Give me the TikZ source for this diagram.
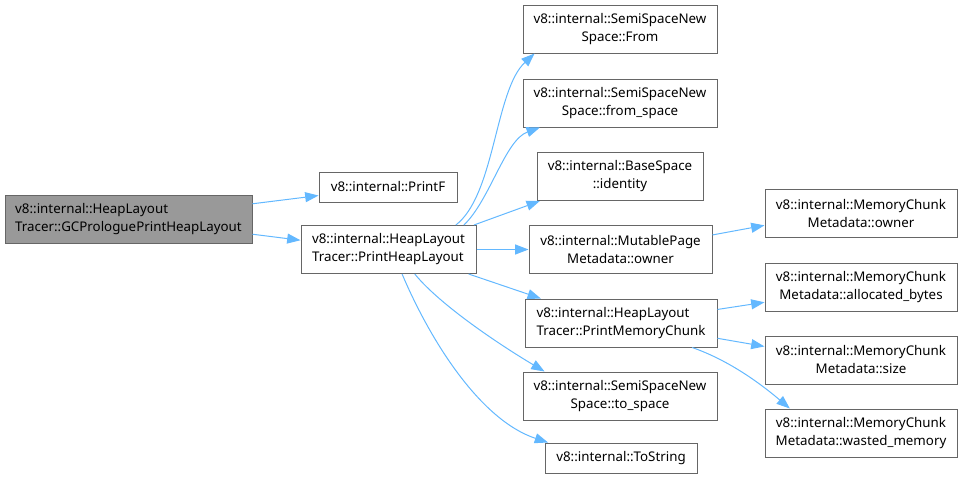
\documentclass[tikz,border=0pt]{standalone}
\usepackage{fontspec}
\setmainfont{Noto Sans}
\usepackage{xcolor}
\definecolor{edgeblue}{HTML}{63B8FF}
\definecolor{boxgray}{HTML}{666666}
\definecolor{rootgray}{HTML}{999999}
\usepackage{tikz}
\usetikzlibrary{arrows.meta}

\begin{document}
\begin{tikzpicture}[
    x=0.75pt, y=0.75pt,
    font=\fontsize{10}{13.5}\selectfont,
    box/.style={rectangle, draw=boxgray, line width=0.75pt, fill=white,
      inner sep=0pt, minimum height=36pt, align=center},
    arrow/.style={draw=edgeblue, line width=0.75pt,
      -{Triangle[length=10pt, width=7.5pt]}}
]
\useasboundingbox (0,0) rectangle (963,-479);
% caller
\node[box, fill=rootgray, minimum width=185.25pt, align=left] (root) at (128.5,-219)
  {v8::internal::HeapLayout\\Tracer::GCProloguePrintHeapLayout};
% first level
\node[box, minimum width=103.5pt, minimum height=22.5pt] (printf) at (388,-187)
  {v8::internal::PrintF};
\node[box, minimum width=131.25pt, align=left] (phl) at (388.5,-249.5)
  {v8::internal::HeapLayout\\Tracer::PrintHeapLayout};
% second level
\node[box, minimum width=145.5pt] (from) at (620,-29)
  {v8::internal::SemiSpaceNew\\Space::From};
\node[box, minimum width=145.5pt] (fromsp) at (620,-103)
  {v8::internal::SemiSpaceNew\\Space::from\_space};
\node[box, minimum width=124.5pt] (ident) at (620,-176.5)
  {v8::internal::BaseSpace\\::identity};
\node[box, minimum width=137.25pt] (mpage) at (620.5,-249.5)
  {v8::internal::MutablePage\\Metadata::owner};
\node[box, minimum width=144pt, align=left] (pmc) at (621,-323)
  {v8::internal::HeapLayout\\Tracer::PrintMemoryChunk};
\node[box, minimum width=145.5pt] (tosp) at (620,-396)
  {v8::internal::SemiSpaceNew\\Space::to\_space};
\node[box, minimum width=114pt, minimum height=22.5pt] (tostr) at (621,-458)
  {v8::internal::ToString};
% third level
\node[box, minimum width=144pt] (mcowner) at (861,-213.5)
  {v8::internal::MemoryChunk\\Metadata::owner};
\node[box, minimum width=144pt] (mcbytes) at (861,-287)
  {v8::internal::MemoryChunk\\Metadata::allocated\_bytes};
\node[box, minimum width=144pt] (mcsize) at (861,-360)
  {v8::internal::MemoryChunk\\Metadata::size};
\node[box, minimum width=144pt] (mcwaste) at (861,-433)
  {v8::internal::MemoryChunk\\Metadata::wasted\_memory};

\draw[arrow] (root.7) -- (printf.187);
\draw[arrow] (root.353) -- (phl.174);
\draw[arrow] (phl.20) .. controls (495,-195) and (495,-90) .. (from.196);
\draw[arrow] (phl.18) .. controls (490,-200) and (505,-140) .. (fromsp.197);
\draw[arrow] (phl.16) -- (ident.197);
\draw[arrow] (phl.east) -- (mpage.west);
\draw[arrow] (phl.343) -- (pmc.163);
\draw[arrow] (phl.317) .. controls (440,-305) and (500,-345) .. (tosp.162);
\draw[arrow] (phl.299) .. controls (430,-340) and (480,-420) .. (tostr.168);
\draw[arrow] (mpage.9) -- (mcowner.187);
\draw[arrow] (pmc.8) -- (mcbytes.189);
\draw[arrow] (pmc.351) -- (mcsize.172);
\draw[arrow] (pmc.341) .. controls (725,-359) and (755,-379) .. (mcwaste.161);
\end{tikzpicture}
\end{document}
